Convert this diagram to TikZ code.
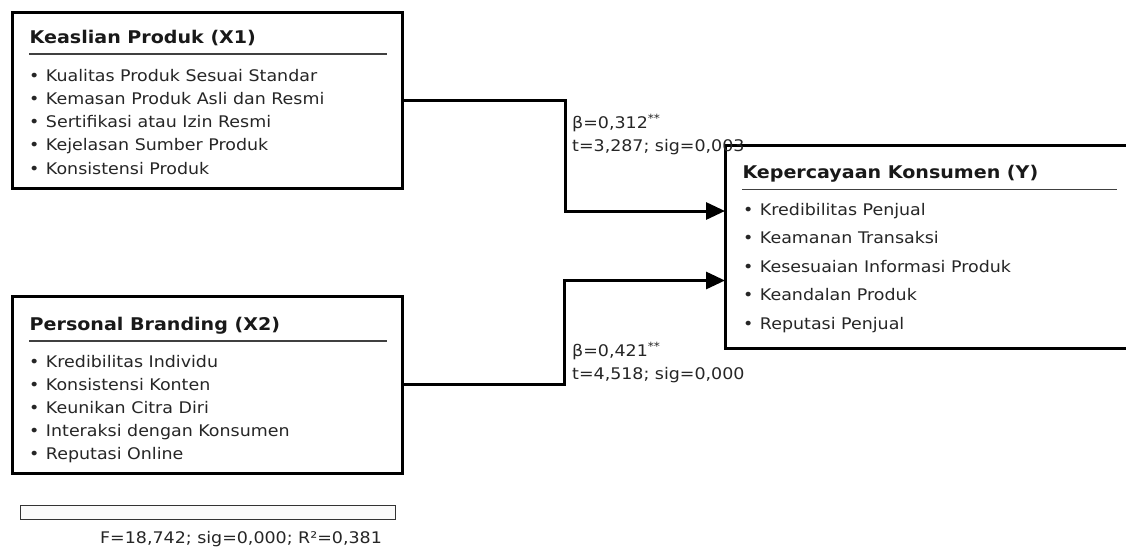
\documentclass[tikz,border=0pt]{standalone}
\usepackage{fontspec}
\setmainfont{DejaVu Sans}[FakeStretch=1.09]
\usetikzlibrary{arrows.meta}
\tikzset{
  varbox/.style={draw=black, line width=3pt, fill=white, inner sep=0pt, outer sep=0pt},
  ttl/.style={anchor=base west, inner sep=0pt, font=\fontsize{17.5}{20}\selectfont\bfseries, text=black!90},
  itm/.style={anchor=base west, inner sep=0pt, font=\fontsize{16}{19}\selectfont, text=black!85},
  lbl/.style={anchor=base west, inner sep=0pt, font=\fontsize{16}{19}\selectfont, text=black!85},
  hrule/.style={draw=black!75, line width=1.6pt},
  conn/.style={draw=black, line width=3pt},
  connarrow/.style={conn, -{Triangle[length=19pt,width=17pt]}},
}
\newcommand{\bl}{\textbullet\hspace{6.5pt}}
\begin{document}
\begin{tikzpicture}[x=1pt,y=-1pt]
\useasboundingbox (0,0) rectangle (1126,547);
\clip (0,0) rectangle (1126,547);
\fill[white] (0,0) rectangle (1126,547);

% X1 box
\node[varbox, minimum width=390pt, minimum height=176pt] (x1) at (207.2,100.2) {};
\node[ttl] (x1t) at (29.5,43.3) {Keaslian Produk (X1)};
\draw[hrule] (29,54) -- (387,54);
\node[itm] (x1a) at (29,81.2) {\bl Kualitas Produk Sesuai Standar};
\node[itm] (x1b) at (29,104.4) {\bl Kemasan Produk Asli dan Resmi};
\node[itm] (x1c) at (29,127.6) {\bl Sertifikasi atau Izin Resmi};
\node[itm] (x1d) at (29,150.8) {\bl Kejelasan Sumber Produk};
\node[itm] (x1e) at (29,174) {\bl Konsistensi Produk};

% X2 box
\node[varbox, minimum width=390pt, minimum height=177pt] (x2) at (207.2,384.7) {};
\node[ttl] (x2t) at (29.5,330) {Personal Branding (X2)};
\draw[hrule] (29,341) -- (387,341);
\node[itm] (x2a) at (29,367.3) {\bl Kredibilitas Individu};
\node[itm] (x2b) at (29,390.2) {\bl Konsistensi Konten};
\node[itm] (x2c) at (29,413.1) {\bl Keunikan Citra Diri};
\node[itm] (x2d) at (29,436) {\bl Interaksi dengan Konsumen};
\node[itm] (x2e) at (29,459) {\bl Reputasi Online};

% Y box
\node[varbox, minimum width=415pt, minimum height=203pt] (yb) at (932.5,246.7) {};
\node[ttl] (yt) at (742.3,178.3) {Kepercayaan Konsumen (Y)};
\draw[hrule] (742,189.3) -- (1117,189.3);
\node[itm] (ya) at (743,215) {\bl Kredibilitas Penjual};
\node[itm] (yb2) at (743,243.5) {\bl Keamanan Transaksi};
\node[itm] (yc) at (743,272) {\bl Kesesuaian Informasi Produk};
\node[itm] (yd) at (743,300.5) {\bl Keandalan Produk};
\node[itm] (ye) at (743,329) {\bl Reputasi Penjual};

% connectors
\draw[connarrow] (x1.east) -- (565,100.2) -- (565,211) -- (yb.west |- 565,211);
\draw[connarrow] (x2.east) -- (564,384.7) -- (564,280.5) -- (yb.west |- 564,280.5);

% labels
\node[lbl] (l1a) at (572,128.3) {β=0,312\textsuperscript{**}};
\node[lbl] (l1b) at (572,151) {t=3,287; sig=0,003};
\node[lbl] (l2a) at (572,356.7) {β=0,421\textsuperscript{**}};
\node[lbl] (l2b) at (572,379.3) {t=4,518; sig=0,000};

% bottom bar
\node[draw=black!80, line width=1.5pt, fill=black!2, minimum width=375pt, minimum height=14pt, inner sep=0pt] (bar) at (208,512.5) {};
\node[lbl] (ftxt) at (100,543.3) {F=18,742; sig=0,000; R²=0,381};
\end{tikzpicture}
\end{document}
